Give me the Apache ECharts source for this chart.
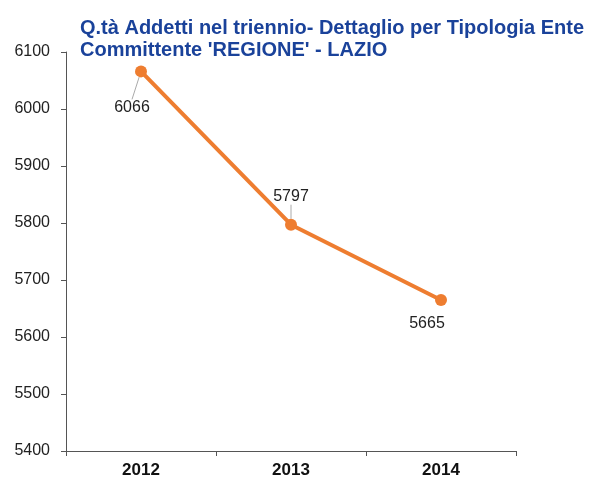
<!DOCTYPE html>
<html>
<head>
<meta charset="utf-8">
<script src="https://cdn.jsdelivr.net/npm/echarts@6/dist/echarts.min.js"></script>
<style>
body { margin: 0; background: #fff; }
#chart { width: 594px; height: 480px; }
</style>
</head>
<body>
<div id="chart"></div>
<script>
var years = ['2012', '2013', '2014'];
var addetti = [6066, 5797, 5665];
var yTicks = { min: 5400, max: 6100, step: 100 };
// label offsets (dx, dy) from the point, per year, and whether a leader line shows
var labelShift = [[-9, 36], [0, -28], [-14, 24]];
var leader = [true, true, false];

var myChart = echarts.init(document.getElementById('chart'));

var points = addetti.map(function (v, i) {
    return { value: v, labelLine: { show: leader[i] } };
});

var option = {
    backgroundColor: '#fff',
    animation: false,
    title: {
        text: "Q.tà Addetti nel triennio- Dettaglio per Tipologia Ente\nCommittente 'REGIONE' - LAZIO",
        left: 75,
        top: 12,
        textStyle: {
            color: '#1A429A',
            fontFamily: 'Liberation Sans, Arial',
            fontWeight: 'bold',
            fontSize: 20,
            lineHeight: 22
        }
    },
    grid: { left: 66, right: 78, top: 52, bottom: 29 },
    xAxis: {
        type: 'category',
        data: years,
        boundaryGap: true,
        axisLine: { lineStyle: { color: '#555', width: 1 } },
        axisTick: { show: true, length: 5, inside: false, lineStyle: { color: '#555' } },
        axisLabel: {
            color: '#111', fontWeight: 'bold', fontSize: 17,
            fontFamily: 'Liberation Sans, Arial', margin: 11
        },
        splitLine: { show: false }
    },
    yAxis: {
        type: 'value',
        min: yTicks.min,
        max: yTicks.max,
        interval: yTicks.step,
        axisLine: { show: true, lineStyle: { color: '#555', width: 1 } },
        axisTick: { show: true, length: 5, lineStyle: { color: '#555' } },
        axisLabel: {
            color: '#222', fontSize: 16,
            fontFamily: 'Liberation Sans, Arial', margin: 16,
            formatter: function (v) { return String(v); }
        },
        splitLine: { show: false }
    },
    series: [{
        type: 'line',
        data: points,
        symbol: 'circle',
        symbolSize: 12,
        lineStyle: { color: '#EE7D30', width: 4 },
        itemStyle: { color: '#EE7D30' },
        label: {
            show: true,
            position: 'inside',
            color: '#222',
            fontSize: 16,
            fontFamily: 'Liberation Sans, Arial'
        },
        labelLayout: function (params) {
            var s = labelShift[params.dataIndex];
            return { dx: s[0], dy: s[1] };
        },
        labelLine: {
            show: true,
            length2: 0,
            lineStyle: { color: '#aaa', width: 1 }
        }
    }]
};

myChart.setOption(option);
</script>
</body>
</html>
